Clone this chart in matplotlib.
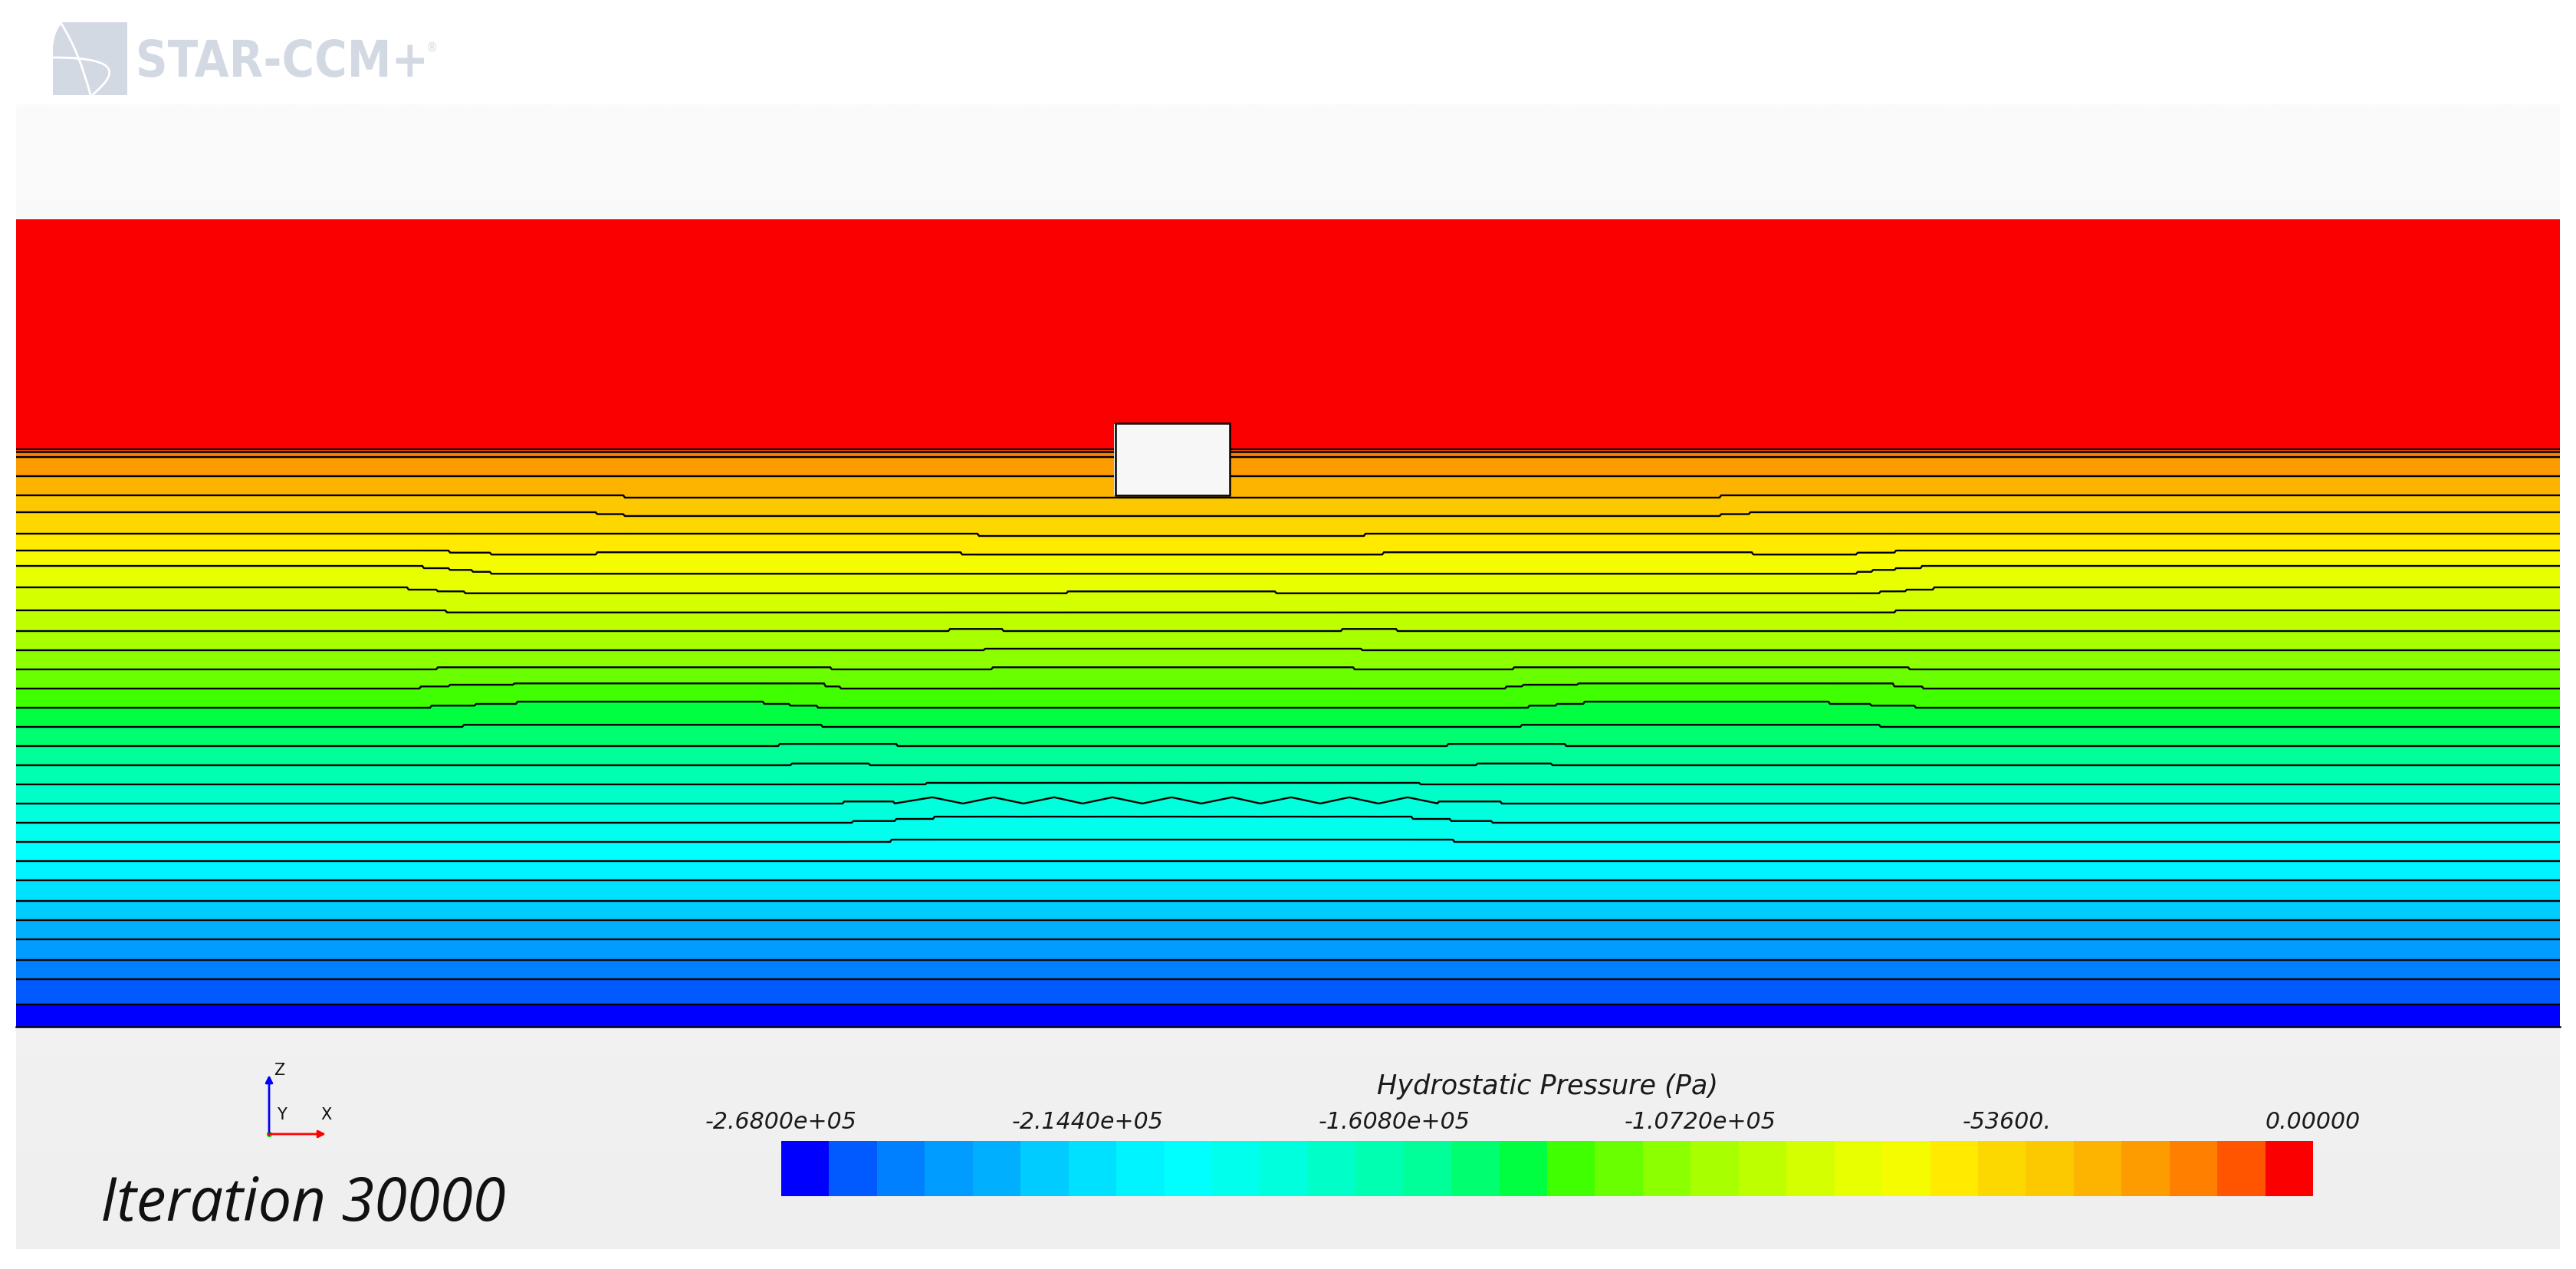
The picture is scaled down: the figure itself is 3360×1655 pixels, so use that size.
import numpy as np
import matplotlib
matplotlib.use("Agg")
import matplotlib.pyplot as plt
from matplotlib.patches import Rectangle, PathPatch
from matplotlib.path import Path
from matplotlib.textpath import TextPath
from matplotlib.font_manager import FontProperties
from matplotlib.transforms import Affine2D

# ---------------- data ----------------
P_MIN, P_MAX, N_BANDS = -268000.0, 0.0, 32
level_edges = np.linspace(P_MIN, P_MAX, N_BANDS + 1)

band_colors = [
    "#0000FF", "#005AFF", "#0080FF", "#009CFF", "#00B0FF", "#00CCFF", "#00E0FF", "#00F4FF",
    "#00FFFF", "#00FFEC", "#00FFDC", "#00FFC8", "#00FFB0", "#00FF98", "#00FF70", "#00FF40",
    "#40FF00", "#6AFF00", "#8CFF00", "#A8FF00", "#BEFF00", "#D4FF00", "#E8FF00", "#F6FC00",
    "#FFEA00", "#FCD800", "#FCC800", "#FDB400", "#FD9C00", "#FF8000", "#FF5500", "#FA0000",
]

# elevation (m) of each isobar (levels -259625 ... -8375 Pa) at the left boundary
isobar_z = [-28.96, -27.64, -26.64, -25.56, -24.56, -23.56, -22.48, -21.48, -20.48, -19.48,
            -18.48, -17.48, -16.48, -15.48, -14.48, -13.48, -12.48, -11.48, -10.48, -9.48,
            -8.40, -7.20, -6.08, -5.28, -4.40, -3.28, -2.40, -1.40, -0.40, -0.14, 0.00]

# local displacement of isobars: (isobar number, x start, x end, dz)
isobar_steps = [
    (27, 31.76, 88.92, -0.12),
    (26, 30.28, 31.76, -0.10), (26, 31.76, 88.92, -0.20), (26, 88.92, 90.44, -0.10),
    (25, 50.20, 70.40, -0.12),
    (24, 22.60, 24.76, -0.11), (24, 24.76, 30.28, -0.21), (24, 30.28, 49.32, -0.09),
    (24, 49.32, 71.36, -0.21), (24, 71.36, 90.60, -0.09), (24, 90.60, 96.08, -0.21),
    (24, 96.08, 98.08, -0.11),
    (23, 21.28, 22.60, -0.12), (23, 22.60, 23.80, -0.21), (23, 23.80, 24.76, -0.31),
    (23, 24.76, 96.08, -0.41), (23, 96.08, 96.88, -0.31), (23, 96.88, 98.08, -0.21),
    (23, 98.08, 99.40, -0.12),
    (22, 20.48, 22.00, -0.12), (22, 22.00, 23.44, -0.21), (22, 23.44, 54.84, -0.31),
    (22, 54.84, 65.76, -0.21), (22, 65.76, 97.28, -0.31), (22, 97.28, 98.60, -0.21),
    (22, 98.60, 100.08, -0.12),
    (21, 22.44, 98.08, -0.11),
    (20, 48.72, 51.52, 0.11), (20, 69.16, 72.08, 0.11),
    (19, 50.52, 70.20, 0.08),
    (18, 22.00, 42.56, 0.11), (18, 50.96, 69.80, 0.11), (18, 78.16, 98.76, 0.11),
    (17, 21.12, 22.64, 0.11), (17, 22.64, 25.96, 0.20), (17, 25.96, 42.24, 0.27),
    (17, 42.24, 43.04, 0.11), (17, 77.72, 78.64, 0.11), (17, 78.64, 81.48, 0.20),
    (17, 81.48, 97.96, 0.27), (17, 97.96, 99.52, 0.11),
    (16, 21.68, 24.00, 0.11), (16, 24.00, 26.16, 0.20), (16, 26.16, 39.04, 0.32),
    (16, 39.04, 40.36, 0.20), (16, 40.36, 41.84, 0.11), (16, 78.96, 80.36, 0.11),
    (16, 80.36, 81.84, 0.20), (16, 81.84, 94.64, 0.32), (16, 94.64, 96.76, 0.20),
    (16, 96.76, 99.08, 0.11),
    (15, 23.32, 42.08, 0.11), (15, 78.52, 97.28, 0.11),
    (14, 39.84, 46.00, 0.11), (14, 74.72, 80.84, 0.11),
    (13, 40.48, 44.56, 0.09), (13, 76.20, 80.16, 0.09),
    (12, 47.48, 73.28, 0.08),
    (11, 43.20, 45.80, 0.11), (11, 74.20, 77.52, 0.11),
    (10, 43.68, 45.88, 0.09), (10, 45.88, 47.92, 0.20), (10, 47.92, 72.88, 0.32),
    (10, 72.88, 74.88, 0.20), (10, 74.88, 77.00, 0.09),
    (9, 45.68, 75.00, 0.12),
]

# zig-zag of isobar 11
zig_x = [45.80, 47.80, 49.40, 51.00, 52.56, 54.16, 55.64, 57.20, 58.76, 60.28,
         61.84, 63.44, 64.92, 66.52, 68.04, 69.56, 71.08, 72.60, 74.20]
zig_dz = [0.00, 0.33, 0.00, 0.33, 0.00, 0.33, 0.00, 0.33, 0.00, 0.33,
          0.00, 0.33, 0.00, 0.33, 0.00, 0.33, 0.00, 0.33, 0.00]

domain_x = (0.0, 132.72)
domain_z = (-30.12, 12.0)
p_bottom, p_top = -267000.0, -141.0

body_x = (57.36, 63.32)
body_z = (-2.40, 1.36)

tick_values = [-268000.0, -214400.0, -160800.0, -107200.0, -53600.0, 0.0]
tick_labels = ["-2.6800e+05", "-2.1440e+05", "-1.6080e+05", "-1.0720e+05", "-53600.", "0.00000"]
bar_title = "Hydrostatic Pressure (Pa)"
iteration_text = "Iteration 30000"
logo_text = "STAR-CCM+"

# ---------------- field ----------------
x = np.linspace(domain_x[0], domain_x[1], 1660)
z = np.linspace(domain_z[0], domain_z[1], 1686)
lines = np.tile(np.array(isobar_z)[:, None], (1, x.size))
for k, x0, x1, d in isobar_steps:
    lines[k - 1, (x >= x0) & (x < x1)] += d
zsel = (x >= zig_x[0]) & (x <= zig_x[-1])
lines[10, zsel] += np.interp(x[zsel], zig_x, zig_dz)

p_iso = level_edges[1:-1]
pp = np.concatenate(([p_bottom], p_iso, [p_top]))
P = np.empty((z.size, x.size))
for j in range(x.size):
    zz = np.concatenate(([z[0]], lines[:, j], [z[-1]]))
    P[:, j] = np.interp(z, zz, pp)
X, Z = np.meshgrid(x, z)
inside = (X >= body_x[0]) & (X <= body_x[1]) & (Z >= body_z[0]) & (Z <= body_z[1])
P = np.ma.masked_where(inside, P)

# ---------------- figure ----------------
W, H = 3360, 1656
fig = plt.figure(figsize=(W / 200, H / 200), dpi=200)
fig.patch.set_facecolor("white")

ital = ["Open Sans", "DejaVu Sans"]
wide = ["DejaVu Sans"]

# background / decoration layer in pixel coordinates
bg = fig.add_axes([0, 0, 1, 1])
bg.axis("off")
bg.set_zorder(-1)
grad = np.linspace(251, 239, 200)[:, None, None] / 255.0 * np.ones((1, 1, 3))
bg.imshow(grad, extent=(21, 3339, 1630, 137), aspect="auto", interpolation="bilinear")
bg.set_xlim(0, W)
bg.set_ylim(H, 0)

logo_c = "#D3D9E3"
icon = Path([(69, 125), (69, 62), (72, 38), (82, 30), (166, 30), (166, 125), (69, 125)],
            [Path.MOVETO, Path.LINETO, Path.CURVE3, Path.CURVE3, Path.LINETO, Path.LINETO, Path.CLOSEPOLY])
bg.add_patch(PathPatch(icon, facecolor=logo_c, edgecolor="none"))
arcA = Path([(80, 32), (104, 70), (118, 125)], [Path.MOVETO, Path.CURVE3, Path.CURVE3])
bg.add_patch(PathPatch(arcA, facecolor="none", edgecolor="white", lw=1.0))
arcB = Path([(69, 76), (165, 76), (150, 100), (120, 125)],
            [Path.MOVETO, Path.CURVE4, Path.CURVE4, Path.CURVE4])
bg.add_patch(PathPatch(arcB, facecolor="none", edgecolor="white", lw=1.0))

# condensed bold logo lettering
tp = TextPath((0, 0), logo_text, size=1, prop=FontProperties(family="DejaVu Sans", weight="bold"))
ext = tp.get_extents()
sx = 372.0 / ext.width
sy = 49.0 / ext.ymax
tr = Affine2D().translate(-ext.xmin, 0).scale(sx, -sy).translate(181, 101) + bg.transData
bg.add_patch(PathPatch(tp, transform=tr, facecolor=logo_c, edgecolor="none"))
bg.text(556, 67, "®", color=logo_c, fontsize=5.5, family=wide, va="baseline", ha="left")

# axis triad
bg.annotate("", xy=(351, 1403), xytext=(351, 1481),
            arrowprops=dict(arrowstyle="-|>", color="#0000FF", lw=1.0, mutation_scale=7,
                            shrinkA=0, shrinkB=0))
bg.annotate("", xy=(425, 1480), xytext=(350, 1480),
            arrowprops=dict(arrowstyle="-|>", color="#FF0000", lw=1.0, mutation_scale=7,
                            shrinkA=0, shrinkB=0))
bg.plot([351], [1480], "o", color="#00E000", ms=2.6, mec="none")
bg.text(357, 1402, "Z", fontsize=7.5, family=wide, va="baseline", ha="left", color="#111111")
bg.text(361, 1460, "Y", fontsize=7.5, family=wide, va="baseline", ha="left", color="#111111")
bg.text(418, 1460, "X", fontsize=7.5, family=wide, va="baseline", ha="left", color="#111111")

bg.text(131, 1592, iteration_text, fontsize=28, style="italic", family=ital,
        va="baseline", ha="left", color="#111111")

# main scene
ax = fig.add_axes([21 / W, (H - 1340) / H, 3318 / W, 1053 / H])
cs = ax.contourf(x, z, P, levels=level_edges, colors=band_colors)
ax.contour(x, z, P, levels=level_edges[1:-1], colors="black", linewidths=0.85,
           linestyles="solid")
ax.add_patch(Rectangle((body_x[0], body_z[0]), body_x[1] - body_x[0], body_z[1] - body_z[0],
                       facecolor="#F7F7F7", edgecolor="black", lw=0.9, zorder=5))
ax.set_xlim(*domain_x)
ax.set_ylim(*domain_z)
ax.set_xticks([])
ax.set_yticks([])
for s in ("top", "left", "right"):
    ax.spines[s].set_visible(False)
ax.spines["bottom"].set_color("black")
ax.spines["bottom"].set_linewidth(0.9)

# colour bar
cax = fig.add_axes([1019 / W, (H - 1561) / H, 1998 / W, 72 / H])
cb = fig.colorbar(cs, cax=cax, orientation="horizontal")
cb.outline.set_visible(False)
cb.set_ticks(tick_values)
cb.set_ticklabels(tick_labels)
cax.xaxis.set_ticks_position("top")
cax.tick_params(axis="x", length=0, pad=4.0, labelsize=10.8, labelcolor="#1A1A1A")
cax.minorticks_off()
for t in cax.get_xticklabels():
    t.set_fontstyle("oblique")
    t.set_family(wide)
cax.text(0.5, 1 + 62 / 72, bar_title, transform=cax.transAxes, ha="center", va="baseline",
         fontsize=12.6, style="oblique", family=wide, color="#1A1A1A")

fig.savefig("out.png", dpi=200, facecolor="white")
